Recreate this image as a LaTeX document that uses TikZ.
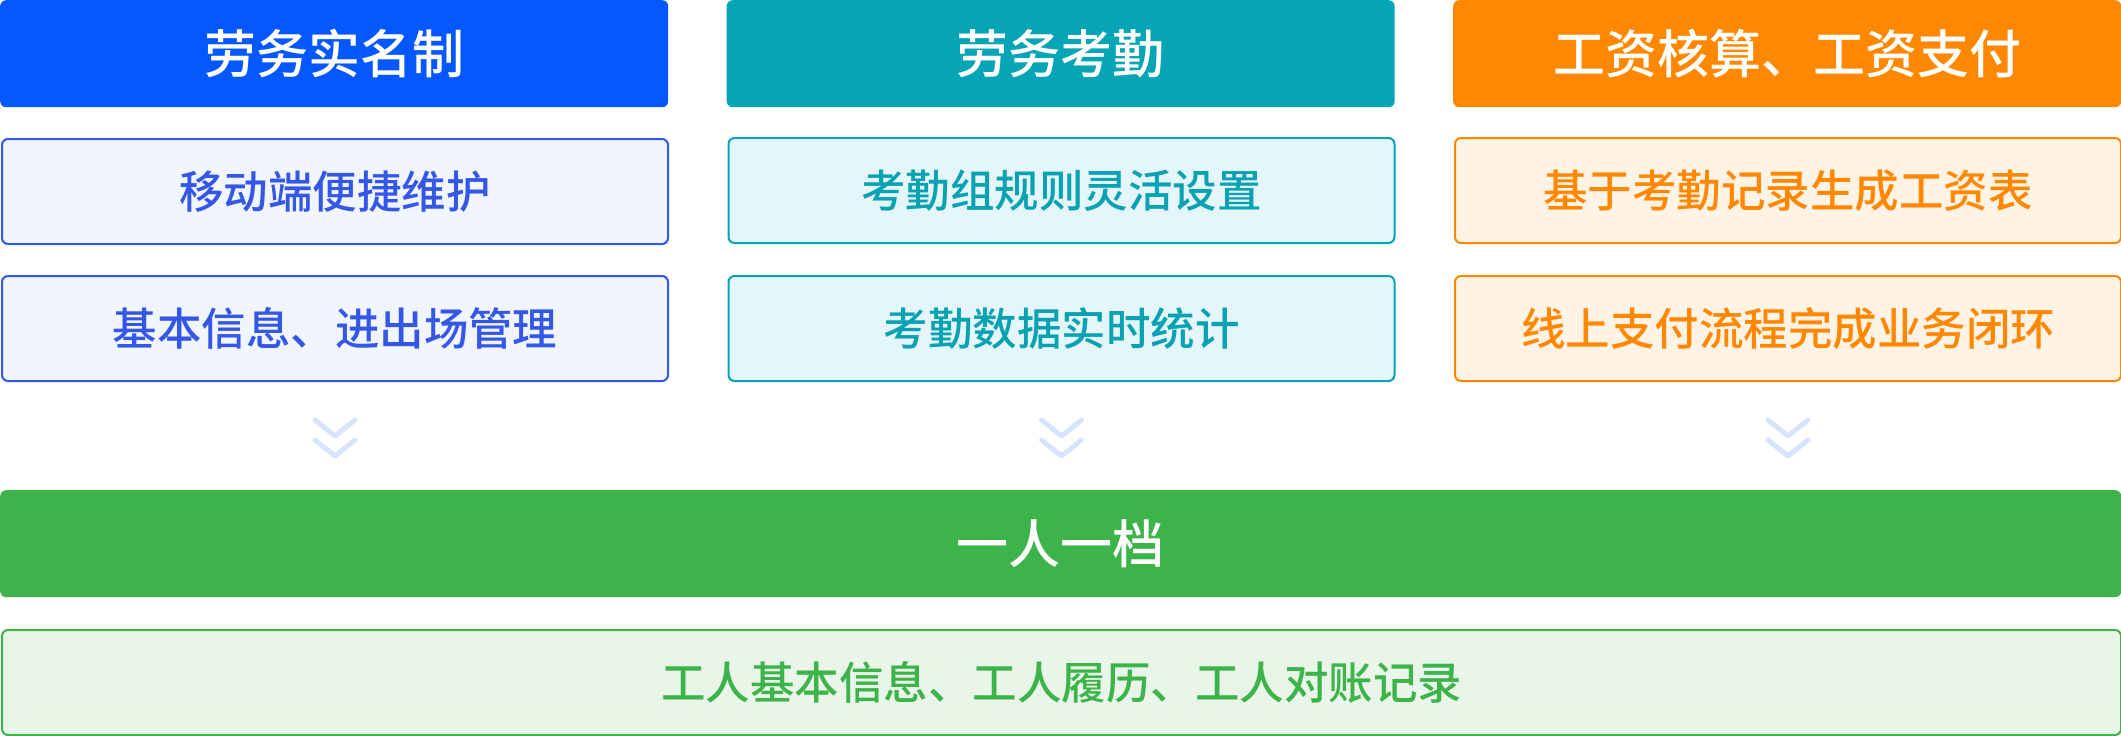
\documentclass[tikz,border=0pt]{standalone}
\usepackage{fontspec}
\newfontfamily\cjk{Noto Sans CJK SC}[UprightFont={* Medium}]
\usetikzlibrary{calc}
\definecolor{cblue}{HTML}{0558FF}
\definecolor{cbluefill}{HTML}{F0F5FF}
\definecolor{cblueline}{HTML}{3457E6}
\definecolor{cteal}{HTML}{06A5B6}
\definecolor{ctealfill}{HTML}{E4F6F9}
\definecolor{ctealtext}{HTML}{08A2B3}
\definecolor{corange}{HTML}{FF8800}
\definecolor{corangefill}{HTML}{FFF3E6}
\definecolor{cgreen}{HTML}{3DB44A}
\definecolor{cgreenfill}{HTML}{EAF5EA}
\definecolor{cchev}{HTML}{D6E4FF}
\tikzset{
  head/.style={rounded corners=6pt, minimum width=668pt, minimum height=107pt, inner sep=0pt,
    text=white, font=\cjk\fontsize{52}{52}\selectfont, anchor=north west},
  item/.style={rounded corners=6pt, line width=2pt, minimum width=666pt, minimum height=105pt, inner sep=0pt,
    font=\cjk\fontsize{44.5}{44.5}\selectfont, anchor=north west},
  blueitem/.style={item, draw=cblueline, fill=cbluefill, text=cblueline},
  tealitem/.style={item, draw=cteal, fill=ctealfill, text=ctealtext},
  orangeitem/.style={item, draw=corange, fill=corangefill, text=corange},
  chev/.style={draw=cchev, line width=5pt, line cap=round, line join=round},
}
\begin{document}
\begin{tikzpicture}[x=1pt, y=-1pt]
\useasboundingbox (0,0) rectangle (2121,736);
% headers
\node[head, fill=cblue] (h1) at (0,0) {劳务实名制};
\node[head, fill=cteal] (h2) at (726.5,0) {劳务考勤};
\node[head, fill=corange] (h3) at (1453,0) {工资核算、工资支付};
% row 2
\node[blueitem] (a1) at (1,138) {移动端便捷维护};
\node[tealitem] (a2) at (727.5,137) {考勤组规则灵活设置};
\node[orangeitem] (a3) at (1454,137) {基于考勤记录生成工资表};
% row 3
\node[blueitem] (b1) at (1,275) {基本信息、进出场管理};
\node[tealitem] (b2) at (727.5,275) {考勤数据实时统计};
\node[orangeitem] (b3) at (1454,275) {线上支付流程完成业务闭环};
% green
\node[head, minimum width=2121pt, fill=cgreen] (g) at (0,490) {一人一档};
\node[item, minimum width=2119pt, draw=cgreen, fill=cgreenfill, text=cgreen] (d) at (1,629) {工人基本信息、工人履历、工人对账记录};
% chevrons
\foreach \n in {b1,b2,b3}{
  \draw[chev] ($(\n.south)+(-20,38)$) -- ($(\n.south)+(0,54)$) -- ($(\n.south)+(20,38)$);
  \draw[chev] ($(\n.south)+(-20,58)$) -- ($(\n.south)+(0,74)$) -- ($(\n.south)+(20,58)$);
}
\end{tikzpicture}
\end{document}
